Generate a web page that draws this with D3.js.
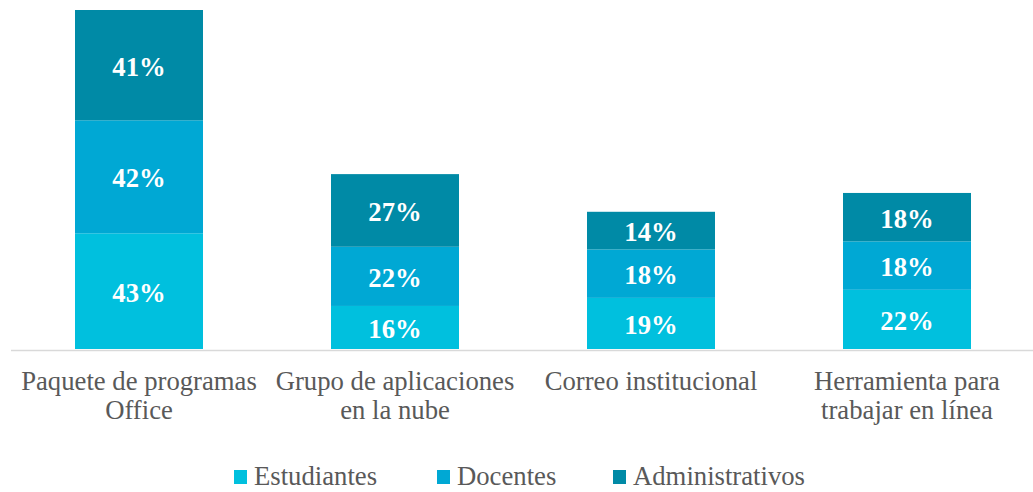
<!DOCTYPE html>
<html>
<head>
<meta charset="utf-8">
<script src="https://cdn.jsdelivr.net/npm/d3@7"></script>
<style>
    body { margin: 0; background: #fff; }
    svg { display: block; font-family: "Liberation Serif", "Times New Roman", serif; }
</style>
</head>
<body>
<svg id="chart"></svg>
<script>
let categories = [
    ["Paquete de programas", "Office"],
    ["Grupo de aplicaciones", "en la nube"],
    ["Correo institucional"],
    ["Herramienta para", "trabajar en línea"]
];
let seriesNames = ["Estudiantes", "Docentes", "Administrativos"];
let estudiantes = [43, 16, 19, 22];
let docentes = [42, 22, 18, 18];
let administrativos = [41, 27, 14, 18];
let colors = ["#00c0de", "#00a8d4", "#008aa6"];

let width = 1033, height = 492;
let baseline = 349, plotTop = 10;
let fontSize = "26.7px";

let svg = d3.select("#chart")
    .attr("width", width)
    .attr("height", height);

let rows = categories.map(function (c, i) {
    return {
        key: i,
        Estudiantes: estudiantes[i],
        Docentes: docentes[i],
        Administrativos: administrativos[i]
    };
});

let stack = d3.stack().keys(seriesNames)(rows);
let maxTotal = d3.max(rows, function (d) {
    return d.Estudiantes + d.Docentes + d.Administrativos;
});

let x = d3.scaleBand()
    .domain(categories.map(function (c, i) { return i; }))
    .range([11, 1035])
    .paddingInner(0.5)
    .paddingOuter(0.25);

let y = d3.scaleLinear()
    .domain([0, maxTotal])
    .range([baseline, plotTop]);

// bars
let layer = svg.selectAll("g.layer")
    .data(stack)
    .enter()
    .append("g")
    .attr("class", "layer")
    .attr("fill", function (d, i) { return colors[i]; });

layer.selectAll("rect")
    .data(function (d) { return d; })
    .enter()
    .append("rect")
    .attr("x", function (d) { return x(d.data.key); })
    .attr("y", function (d) { return y(d[1]); })
    .attr("width", x.bandwidth())
    .attr("height", function (d) { return y(d[0]) - y(d[1]); });

layer.selectAll("text")
    .data(function (d) { return d; })
    .enter()
    .append("text")
    .attr("x", function (d) { return x(d.data.key) + x.bandwidth() / 2; })
    .attr("y", function (d) { return (y(d[0]) + y(d[1])) / 2; })
    .attr("dy", "0.4em")
    .attr("text-anchor", "middle")
    .attr("fill", "#fff")
    .style("font-size", fontSize)
    .style("font-weight", "bold")
    .text(function (d) { return (d[1] - d[0]) + "%"; });

// axis line
svg.append("line")
    .attr("x1", 11)
    .attr("x2", width)
    .attr("y1", baseline + 1.5)
    .attr("y2", baseline + 1.5)
    .attr("stroke", "#d9d9d9")
    .attr("stroke-width", 1.5);

// category labels
let labels = svg.selectAll("text.cat")
    .data(categories)
    .enter()
    .append("text")
    .attr("class", "cat")
    .attr("text-anchor", "middle")
    .attr("fill", "#595959")
    .style("font-size", fontSize);

labels.selectAll("tspan")
    .data(function (d, i) {
        return d.map(function (line, j) { return {line: line, j: j, i: i}; });
    })
    .enter()
    .append("tspan")
    .attr("x", function (d) { return x(d.i) + x.bandwidth() / 2; })
    .attr("y", function (d) { return 390 + d.j * 29; })
    .text(function (d) { return d.line; });

// legend
let legendX = [234, 437, 613];
let legend = svg.selectAll("g.legend")
    .data(seriesNames)
    .enter()
    .append("g")
    .attr("class", "legend")
    .attr("transform", function (d, i) { return "translate(" + legendX[i] + ",470)"; });

legend.append("rect")
    .attr("width", 13)
    .attr("height", 14)
    .attr("fill", function (d, i) { return colors[i]; });

legend.append("text")
    .attr("x", 20)
    .attr("y", 15)
    .attr("fill", "#595959")
    .style("font-size", fontSize)
    .text(function (d) { return d; });
</script>
</body>
</html>
